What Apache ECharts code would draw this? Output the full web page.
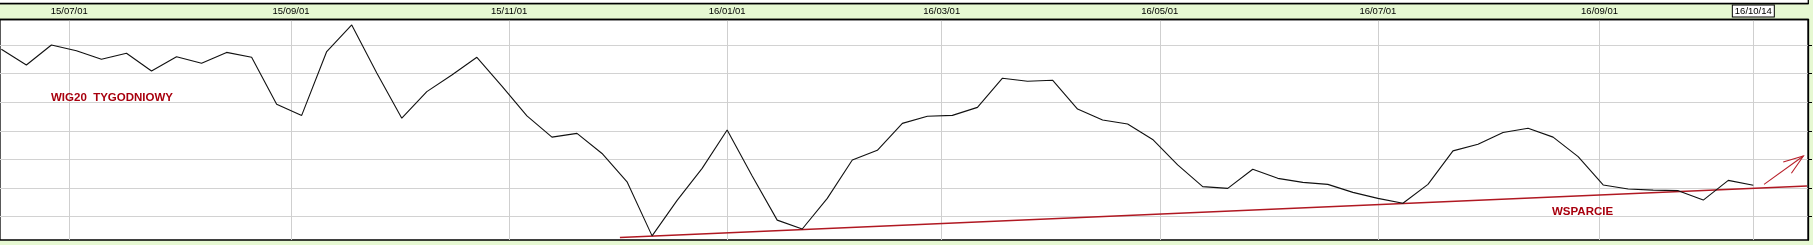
<!DOCTYPE html>
<html><head><meta charset="utf-8">
<script src="https://cdn.jsdelivr.net/npm/echarts@6/dist/echarts.min.js"></script>
<style>html,body{margin:0;padding:0;background:#e6f8d2;overflow:hidden}#c{width:1813px;height:245px}</style>
</head><body><div id="c"></div>
<script>
// ---- data ----
const weekDates = [
 '2015-06-12','2015-06-19','2015-06-26','2015-07-03','2015-07-10','2015-07-17','2015-07-24','2015-07-31',
 '2015-08-07','2015-08-14','2015-08-21','2015-08-28','2015-09-04','2015-09-11','2015-09-18','2015-09-25',
 '2015-10-02','2015-10-09','2015-10-16','2015-10-23','2015-10-30','2015-11-06','2015-11-13','2015-11-20',
 '2015-11-27','2015-12-04','2015-12-11','2015-12-18','2015-12-25','2016-01-01','2016-01-08','2016-01-15',
 '2016-01-22','2016-01-29','2016-02-05','2016-02-12','2016-02-19','2016-02-26','2016-03-04','2016-03-11',
 '2016-03-18','2016-03-25','2016-04-01','2016-04-08','2016-04-15','2016-04-22','2016-04-29','2016-05-06',
 '2016-05-13','2016-05-20','2016-05-27','2016-06-03','2016-06-10','2016-06-17','2016-06-24','2016-07-01',
 '2016-07-08','2016-07-15','2016-07-22','2016-07-29','2016-08-05','2016-08-12','2016-08-19','2016-08-26',
 '2016-09-02','2016-09-09','2016-09-16','2016-09-23','2016-09-30','2016-10-07','2016-10-14'];
const wigValues = [
 685,630,700,680,650,671,609,659,636,674,
 657,493,454,677,770,602,444,537,595,657,
 556,452,378,391,321,222,33,157,269,403,
 242,88,57,164,298,332,426,451,454,482,
 584,573,577,476,438,424,370,281,205,199,
 266,234,220,213,185,164,147,213,330,353,
 394,409,378,310,211,197,193,191,158,227,210];
const tickDates = ['2015-07-01','2015-09-01','2015-11-01','2016-01-01','2016-03-01','2016-05-01','2016-07-01','2016-09-01','2016-10-14'];
const lastDate = '2016-10-14';
const gridValues = [100,200,300,400,500,600,700];
const supportLine = [['2015-12-02',27],['2016-10-29',207]];
const trendArrow = [['2016-10-17',213],['2016-10-28',312]];
const xRange = ['2015-06-11T15:00','2016-10-29T07:00'];
const yRange = [18.6, 789];
const titleText = 'WIG20  TYGODNIOWY';
const supportText = 'WSPARCIE';

// ---- helpers ----
function ts(s){
  const parts = s.split('T'); const d = parts[0].split('-').map(Number);
  let h = 0, mi = 0; if (parts[1]) { const t = parts[1].split(':').map(Number); h = t[0]; mi = t[1]; }
  return Date.UTC(d[0], d[1]-1, d[2], h, mi);
}
function pad(n){ return (n<10?'0':'') + n; }
function fmt(v){ const d = new Date(v); return pad(d.getUTCFullYear()%100)+'/'+pad(d.getUTCMonth()+1)+'/'+pad(d.getUTCDate()); }
const tickTs = tickDates.map(ts);
const lastTs = ts(lastDate);
const RED = '#a8000e';
const FONT = '"Liberation Sans", Arial, sans-serif';

const chart = echarts.init(document.getElementById('c'), null, {renderer:'canvas'});
chart.setOption({
  animation: false,
  backgroundColor: '#e6f8d2',
  grid: { left: -1, right: 5, top: 19.5, bottom: 5, show: true, backgroundColor: '#fff', borderColor: '#000', borderWidth: 1.3 },
  xAxis: [{
    type: 'value', position: 'top', min: ts(xRange[0]), max: ts(xRange[1]),
    axisLine: { show: true, lineStyle: { color: '#000', width: 1.3 } },
    axisTick: { show: false, customValues: tickTs },
    axisLabel: {
      customValues: tickTs, margin: 3, color: '#000', fontSize: 9.5, fontFamily: FONT, hideOverlap: false,
      showMinLabel: true, showMaxLabel: true,
      formatter: v => (Math.abs(v - lastTs) < 1000 ? '{b|' + fmt(v) + '}' : fmt(v)),
      rich: { b: { borderColor: '#000', borderWidth: 1, backgroundColor: '#fff', padding: [1, 2, 0, 2], fontSize: 9.5, fontFamily: FONT, color: '#000' } }
    },
    splitLine: { show: true, lineStyle: { color: '#cfcfcf', width: 1 } }
  }, {
    type: 'value', position: 'top', offset: 16, min: ts(xRange[0]), max: ts(xRange[1]),
    axisLine: { show: true, lineStyle: { color: '#000', width: 1.3 } },
    axisTick: { show: true, length: 3, customValues: tickTs, lineStyle: { color: '#000' } },
    axisLabel: { show: false, customValues: tickTs },
    splitLine: { show: false }
  }],
  yAxis: {
    type: 'value', position: 'right', min: yRange[0], max: yRange[1],
    axisLine: { show: true, lineStyle: { color: '#000', width: 1.3 } },
    axisTick: { show: true, length: 4, customValues: gridValues, lineStyle: { color: '#000' } },
    axisLabel: { show: false, customValues: gridValues },
    splitLine: { show: true, lineStyle: { color: '#d2d2d2', width: 1 } }
  },
  graphic: [
    { type: 'rect', z: 100, shape: { x: -2, y: -2, width: 1810.3, height: 5.5 }, style: { fill: '#fff', stroke: '#000', lineWidth: 1.3 } },
    { type: 'text', z: 100, x: 51, y: 98, style: { text: titleText, font: 'bold 11.5px ' + FONT, fill: RED, verticalAlign: 'middle' } },
    { type: 'text', z: 100, x: 1552, y: 211.5, style: { text: supportText, font: 'bold 11.5px ' + FONT, fill: RED, verticalAlign: 'middle' } }
  ],
  series: [{
    type: 'line', name: 'WIG20', xAxisIndex: 0, data: weekDates.map((d, i) => [ts(d), wigValues[i]]),
    symbol: 'none', lineStyle: { color: '#111', width: 1.1 }, z: 3
  }, {
    type: 'line', name: 'Wsparcie', xAxisIndex: 0, data: supportLine.map(p => [ts(p[0]), p[1]]),
    symbol: 'none', lineStyle: { color: '#b01822', width: 1.5 }, z: 2
  }, {
    type: 'custom', xAxisIndex: 0, z: 4,
    data: [[ts(trendArrow[0][0]), trendArrow[0][1], ts(trendArrow[1][0]), trendArrow[1][1]]],
    encode: { x: [0, 2], y: [1, 3] },
    renderItem: (params, api) => {
      const p0 = api.coord([api.value(0), api.value(1)]);
      const p1 = api.coord([api.value(2), api.value(3)]);
      const ang = Math.atan2(p1[1] - p0[1], p1[0] - p0[0]);
      const L = 21, w = 0.34;
      const h1 = [p1[0] - L * Math.cos(ang - w), p1[1] - L * Math.sin(ang - w)];
      const h2 = [p1[0] - L * Math.cos(ang + w), p1[1] - L * Math.sin(ang + w)];
      const st = { stroke: '#b8202a', lineWidth: 1.1, fill: null };
      return { type: 'group', children: [
        { type: 'polyline', shape: { points: [p0, p1] }, style: st },
        { type: 'polyline', shape: { points: [h1, p1, h2] }, style: st }
      ] };
    }
  }]
});
</script></body></html>
